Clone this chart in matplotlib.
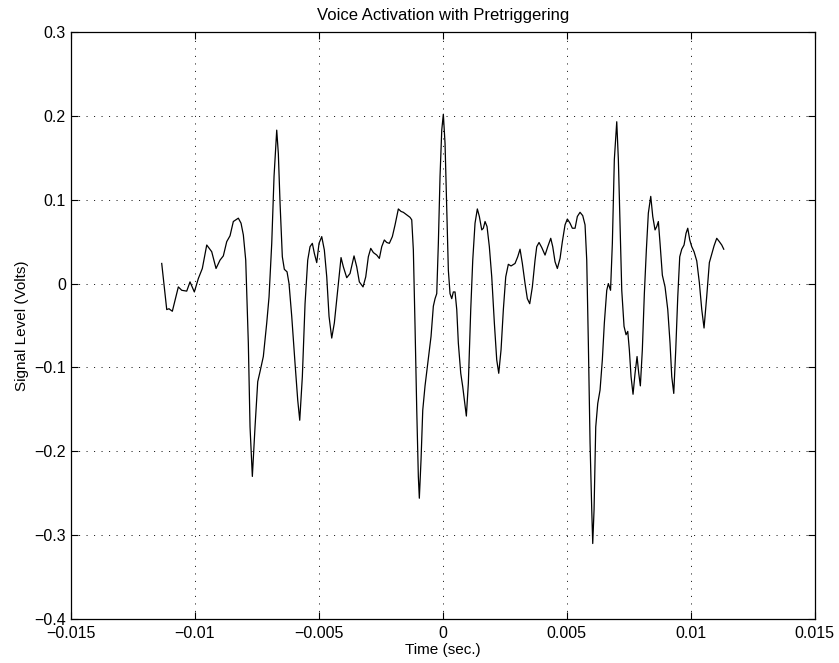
"""Voice activation waveform with pretriggering (MATLAB-style plot)."""

import matplotlib
matplotlib.use("Agg")
import matplotlib.pyplot as plt
from matplotlib.ticker import FixedLocator, FuncFormatter

# time in milliseconds
time_ms = [
    -11.331, -11.129, -11.036, -10.996, -10.903, -10.794, -10.661, -10.524,
    -10.323, -10.190, -10.016, -9.855, -9.694, -9.516, -9.315, -9.141,
    -8.980, -8.847, -8.710, -8.577, -8.444, -8.242, -8.133, -8.040,
    -7.944, -7.839, -7.770, -7.677, -7.569, -7.460, -7.367, -7.234,
    -7.097, -7.004, -6.895, -6.802, -6.694, -6.629, -6.560, -6.468,
    -6.387, -6.278, -6.198, -6.089, -5.956, -5.847, -5.766, -5.661,
    -5.552, -5.444, -5.351, -5.258, -5.177, -5.081, -4.988, -4.879,
    -4.774, -4.677, -4.585, -4.476, -4.371, -4.234, -4.101, -4.008,
    -3.871, -3.738, -3.577, -3.468, -3.363, -3.214, -3.105, -3.000,
    -2.903, -2.798, -2.661, -2.556, -2.460, -2.355, -2.258, -2.153,
    -2.032, -1.923, -1.790, -1.681, -1.589, -1.452, -1.319, -1.250,
    -1.185, -1.117, -1.048, -0.984, -0.944, -0.875, -0.806, -0.714,
    -0.581, -0.472, -0.379, -0.310, -0.242, -0.177, -0.109, -0.040,
    0.024, 0.093, 0.161, 0.226, 0.294, 0.363, 0.427, 0.496,
    0.565, 0.629, 0.726, 0.806, 0.871, 0.952, 1.032, 1.129,
    1.210, 1.302, 1.395, 1.476, 1.573, 1.637, 1.706, 1.786,
    1.879, 1.976, 2.081, 2.177, 2.258, 2.351, 2.444, 2.540,
    2.645, 2.754, 2.863, 2.915, 3.024, 3.117, 3.210, 3.319,
    3.411, 3.508, 3.613, 3.722, 3.790, 3.883, 3.992, 4.125,
    4.234, 4.355, 4.435, 4.528, 4.621, 4.730, 4.823, 4.931,
    5.024, 5.133, 5.226, 5.335, 5.427, 5.536, 5.645, 5.738,
    5.806, 5.871, 5.940, 6.008, 6.048, 6.101, 6.169, 6.250,
    6.343, 6.435, 6.516, 6.613, 6.677, 6.766, 6.839, 6.919,
    7.016, 7.081, 7.149, 7.218, 7.310, 7.391, 7.460, 7.524,
    7.593, 7.673, 7.754, 7.835, 7.903, 7.968, 8.048, 8.129,
    8.210, 8.290, 8.387, 8.468, 8.560, 8.629, 8.694, 8.762,
    8.855, 8.964, 9.073, 9.165, 9.234, 9.315, 9.395, 9.476,
    9.556, 9.637, 9.730, 9.810, 9.879, 9.960, 10.040, 10.133,
    10.242, 10.347, 10.444, 10.536, 10.645, 10.750, 10.847, 10.940,
    11.048, 11.153, 11.250, 11.331,
]

# signal level in volts
signal_v = [
    0.024, -0.031, -0.030, -0.031, -0.033, -0.020, -0.004, -0.008,
    -0.009, 0.002, -0.010, 0.006, 0.018, 0.046, 0.038, 0.018,
    0.028, 0.033, 0.050, 0.057, 0.074, 0.078, 0.072, 0.058,
    0.028, -0.071, -0.171, -0.230, -0.171, -0.117, -0.105, -0.087,
    -0.047, -0.016, 0.048, 0.128, 0.183, 0.155, 0.096, 0.032,
    0.017, 0.014, 0.000, -0.039, -0.095, -0.139, -0.163, -0.111,
    -0.024, 0.028, 0.044, 0.048, 0.036, 0.025, 0.048, 0.056,
    0.040, 0.008, -0.039, -0.065, -0.047, -0.008, 0.031, 0.020,
    0.007, 0.012, 0.033, 0.020, 0.002, -0.004, 0.008, 0.032,
    0.042, 0.037, 0.034, 0.030, 0.044, 0.052, 0.049, 0.048,
    0.056, 0.070, 0.089, 0.086, 0.085, 0.082, 0.079, 0.076,
    0.040, -0.051, -0.151, -0.230, -0.256, -0.210, -0.151, -0.122,
    -0.089, -0.063, -0.027, -0.018, -0.012, 0.048, 0.128, 0.183,
    0.202, 0.167, 0.088, 0.016, -0.012, -0.018, -0.010, -0.010,
    -0.031, -0.071, -0.107, -0.123, -0.139, -0.158, -0.119, -0.031,
    0.028, 0.072, 0.089, 0.080, 0.064, 0.066, 0.074, 0.068,
    0.044, 0.008, -0.047, -0.091, -0.107, -0.079, -0.031, 0.008,
    0.023, 0.021, 0.023, 0.024, 0.032, 0.041, 0.024, 0.000,
    -0.018, -0.024, -0.004, 0.028, 0.044, 0.049, 0.043, 0.034,
    0.044, 0.054, 0.044, 0.026, 0.018, 0.030, 0.050, 0.070,
    0.077, 0.072, 0.066, 0.066, 0.080, 0.085, 0.081, 0.070,
    0.028, -0.071, -0.190, -0.270, -0.310, -0.270, -0.171, -0.143,
    -0.127, -0.091, -0.047, -0.008, 0.000, -0.008, 0.048, 0.148,
    0.193, 0.148, 0.068, -0.008, -0.051, -0.061, -0.057, -0.079,
    -0.111, -0.132, -0.107, -0.087, -0.107, -0.122, -0.079, -0.012,
    0.040, 0.084, 0.104, 0.080, 0.064, 0.068, 0.074, 0.048,
    0.010, -0.004, -0.031, -0.071, -0.111, -0.131, -0.079, -0.016,
    0.032, 0.041, 0.046, 0.060, 0.066, 0.052, 0.044, 0.038,
    0.027, 0.001, -0.031, -0.053, -0.015, 0.025, 0.035, 0.045,
    0.054, 0.050, 0.046, 0.041,
]

x_ticks = [-0.015, -0.01, -0.005, 0, 0.005, 0.01, 0.015]
y_ticks = [-0.4, -0.3, -0.2, -0.1, 0, 0.1, 0.2, 0.3]


def tick_fmt(v, _pos):
    s = f"{v:g}"
    if s in ("-0", "0"):
        return "0"
    return s.replace("-", "\u2212")


def main() -> None:
    plt.rcParams["font.family"] = ["Liberation Sans", "DejaVu Sans"]
    plt.rcParams["font.size"] = 11
    plt.rcParams["lines.scale_dashes"] = False

    time_s = [t / 1000.0 for t in time_ms]

    fig = plt.figure(figsize=(8.39, 6.63), dpi=100)
    ax = fig.add_axes([0.0843, 0.0664, 0.8868, 0.8853])

    ax.plot(time_s, signal_v, color="black", linewidth=0.9)

    ax.set_xlim(-0.015, 0.015)
    ax.set_ylim(-0.4, 0.3)
    ax.xaxis.set_major_locator(FixedLocator(x_ticks))
    ax.yaxis.set_major_locator(FixedLocator(y_ticks))
    ax.xaxis.set_major_formatter(FuncFormatter(tick_fmt))
    ax.yaxis.set_major_formatter(FuncFormatter(tick_fmt))

    ax.tick_params(direction="in", length=5, width=0.8, top=True, right=True,
                   labelsize=11.5)
    ax.tick_params(axis="x", pad=5)
    ax.tick_params(axis="y", pad=3.5)
    ax.grid(True, color="black", linestyle=(0, (0.8, 4.6)), linewidth=0.6)
    for spine in ax.spines.values():
        spine.set_linewidth(0.9)

    ax.set_title("Voice Activation with Pretriggering", fontsize=12, pad=9)
    ax.set_xlabel("Time (sec.)", fontsize=11, labelpad=1.5)
    ax.set_ylabel("Signal Level (Volts)", fontsize=11, labelpad=4)

    fig.savefig("out.png", dpi=100)
    plt.close(fig)


if __name__ == "__main__":
    main()
